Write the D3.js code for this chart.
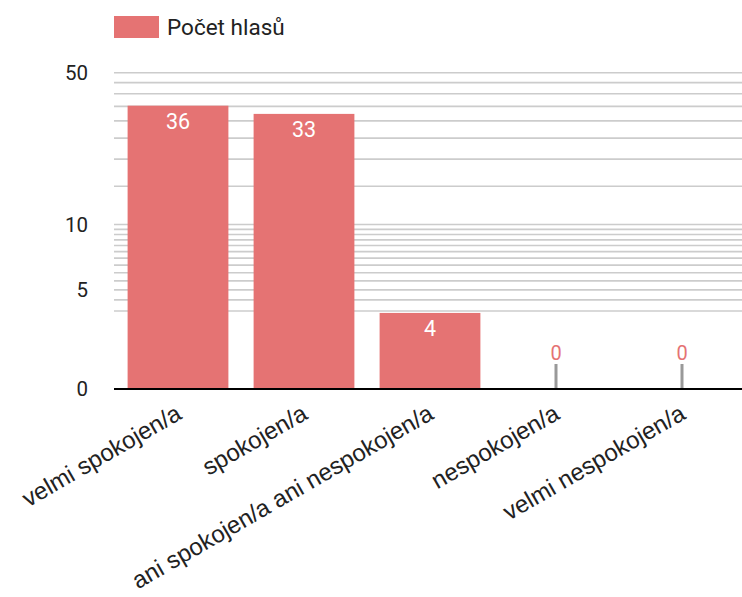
<!DOCTYPE html>
<html>
<head>
<meta charset="utf-8">
<script src="https://cdn.jsdelivr.net/npm/d3@7"></script>
<style>
  html, body { margin: 0; padding: 0; background: #fff; }
  svg { display: block; }
</style>
</head>
<body>
<svg id="chart" width="742" height="597"></svg>
<script>
// ---- data ----
const categories = ["velmi spokojen/a", "spokojen/a", "ani spokojen/a ani nespokojen/a", "nespokojen/a", "velmi nespokojen/a"];
const values = [36, 33, 4, 0, 0];
const seriesName = "Počet hlasů";
const tickLabels = [0, 5, 10, 50];
const gridValues = [4, 4.5, 5, 5.5, 6, 6.5, 7, 7.5, 8, 8.5, 9, 9.5, 10, 15, 20, 25, 30, 35, 40, 45, 50];
const logMin = 1.767; // value sitting on the baseline of the log axis
const logMax = 50;

// ---- layout ----
const W = 742, H = 597;
const plot = { left: 115, right: 745, top: 72.7, bottom: 388 };
const barColor = "#e57373";

const svg = d3.select("#chart");

const x = d3.scaleBand()
  .domain(categories)
  .range([plot.left, plot.right])
  .paddingInner(0.2)
  .paddingOuter(0.1);

const y = d3.scaleLog()
  .domain([logMin, logMax])
  .range([plot.bottom, plot.top]);

const yPos = v => v <= 0 ? y(logMin) : y(Math.max(v, logMin));

// gridlines
svg.append("g")
  .selectAll("line")
  .data(gridValues)
  .join("line")
  .attr("x1", 114)
  .attr("x2", W)
  .attr("y1", d => yPos(d))
  .attr("y2", d => yPos(d))
  .attr("stroke", "#cccccc")
  .attr("stroke-width", 1.6);

// y tick labels
svg.append("g")
  .selectAll("text")
  .data(tickLabels)
  .join("text")
  .attr("x", 88)
  .attr("y", d => yPos(d) + 7.5)
  .attr("text-anchor", "end")
  .attr("font-family", "Roboto, sans-serif")
  .attr("font-size", 20.5)
  .attr("fill", "#222")
  .text(d => d);

// bars
const data = categories.map((c, i) => ({ c, v: values[i] }));

svg.append("g")
  .selectAll("rect")
  .data(data.filter(d => d.v > 0))
  .join("rect")
  .attr("x", d => x(d.c))
  .attr("y", d => yPos(d.v) + 2)
  .attr("width", x.bandwidth())
  .attr("height", d => yPos(0) - yPos(d.v) - 2)
  .attr("fill", barColor);

// stubs for zero values
svg.append("g")
  .selectAll("line")
  .data(data.filter(d => d.v <= 0))
  .join("line")
  .attr("x1", d => x(d.c) + x.bandwidth() / 2)
  .attr("x2", d => x(d.c) + x.bandwidth() / 2)
  .attr("y1", yPos(0) - 24)
  .attr("y2", yPos(0))
  .attr("stroke", "#999999")
  .attr("stroke-width", 3);

// data labels
svg.append("g")
  .selectAll("text")
  .data(data)
  .join("text")
  .attr("x", d => x(d.c) + x.bandwidth() / 2)
  .attr("y", d => d.v > 0 ? yPos(d.v) + 25.5 : yPos(0) - 28)
  .attr("text-anchor", "middle")
  .attr("font-family", "Roboto, sans-serif")
  .attr("font-size", d => d.v > 0 ? 21.5 : 20)
  .attr("fill", d => d.v > 0 ? "#ffffff" : barColor)
  .text(d => d.v);

// baseline
svg.append("line")
  .attr("x1", 114)
  .attr("x2", W)
  .attr("y1", yPos(0) + 1)
  .attr("y2", yPos(0) + 1)
  .attr("stroke", "#000")
  .attr("stroke-width", 2);

// x labels (slanted)
svg.append("g")
  .selectAll("text")
  .data(categories)
  .join("text")
  .attr("transform", d => `translate(${x(d) + x.bandwidth() / 2 + 5},${plot.bottom + 30}) rotate(-30)`)
  .attr("text-anchor", "end")
  .attr("font-family", "'Liberation Sans', Arial, sans-serif")
  .attr("font-size", 24)
  .attr("fill", "#222")
  .text(d => d);

// legend
const legend = svg.append("g");
legend.append("rect")
  .attr("x", 114).attr("y", 16)
  .attr("width", 45).attr("height", 22)
  .attr("fill", barColor);
legend.append("text")
  .attr("x", 167).attr("y", 34.5)
  .attr("font-family", "Roboto, sans-serif")
  .attr("font-size", 22.5)
  .attr("fill", "#222")
  .text(seriesName);
</script>
</body>
</html>
